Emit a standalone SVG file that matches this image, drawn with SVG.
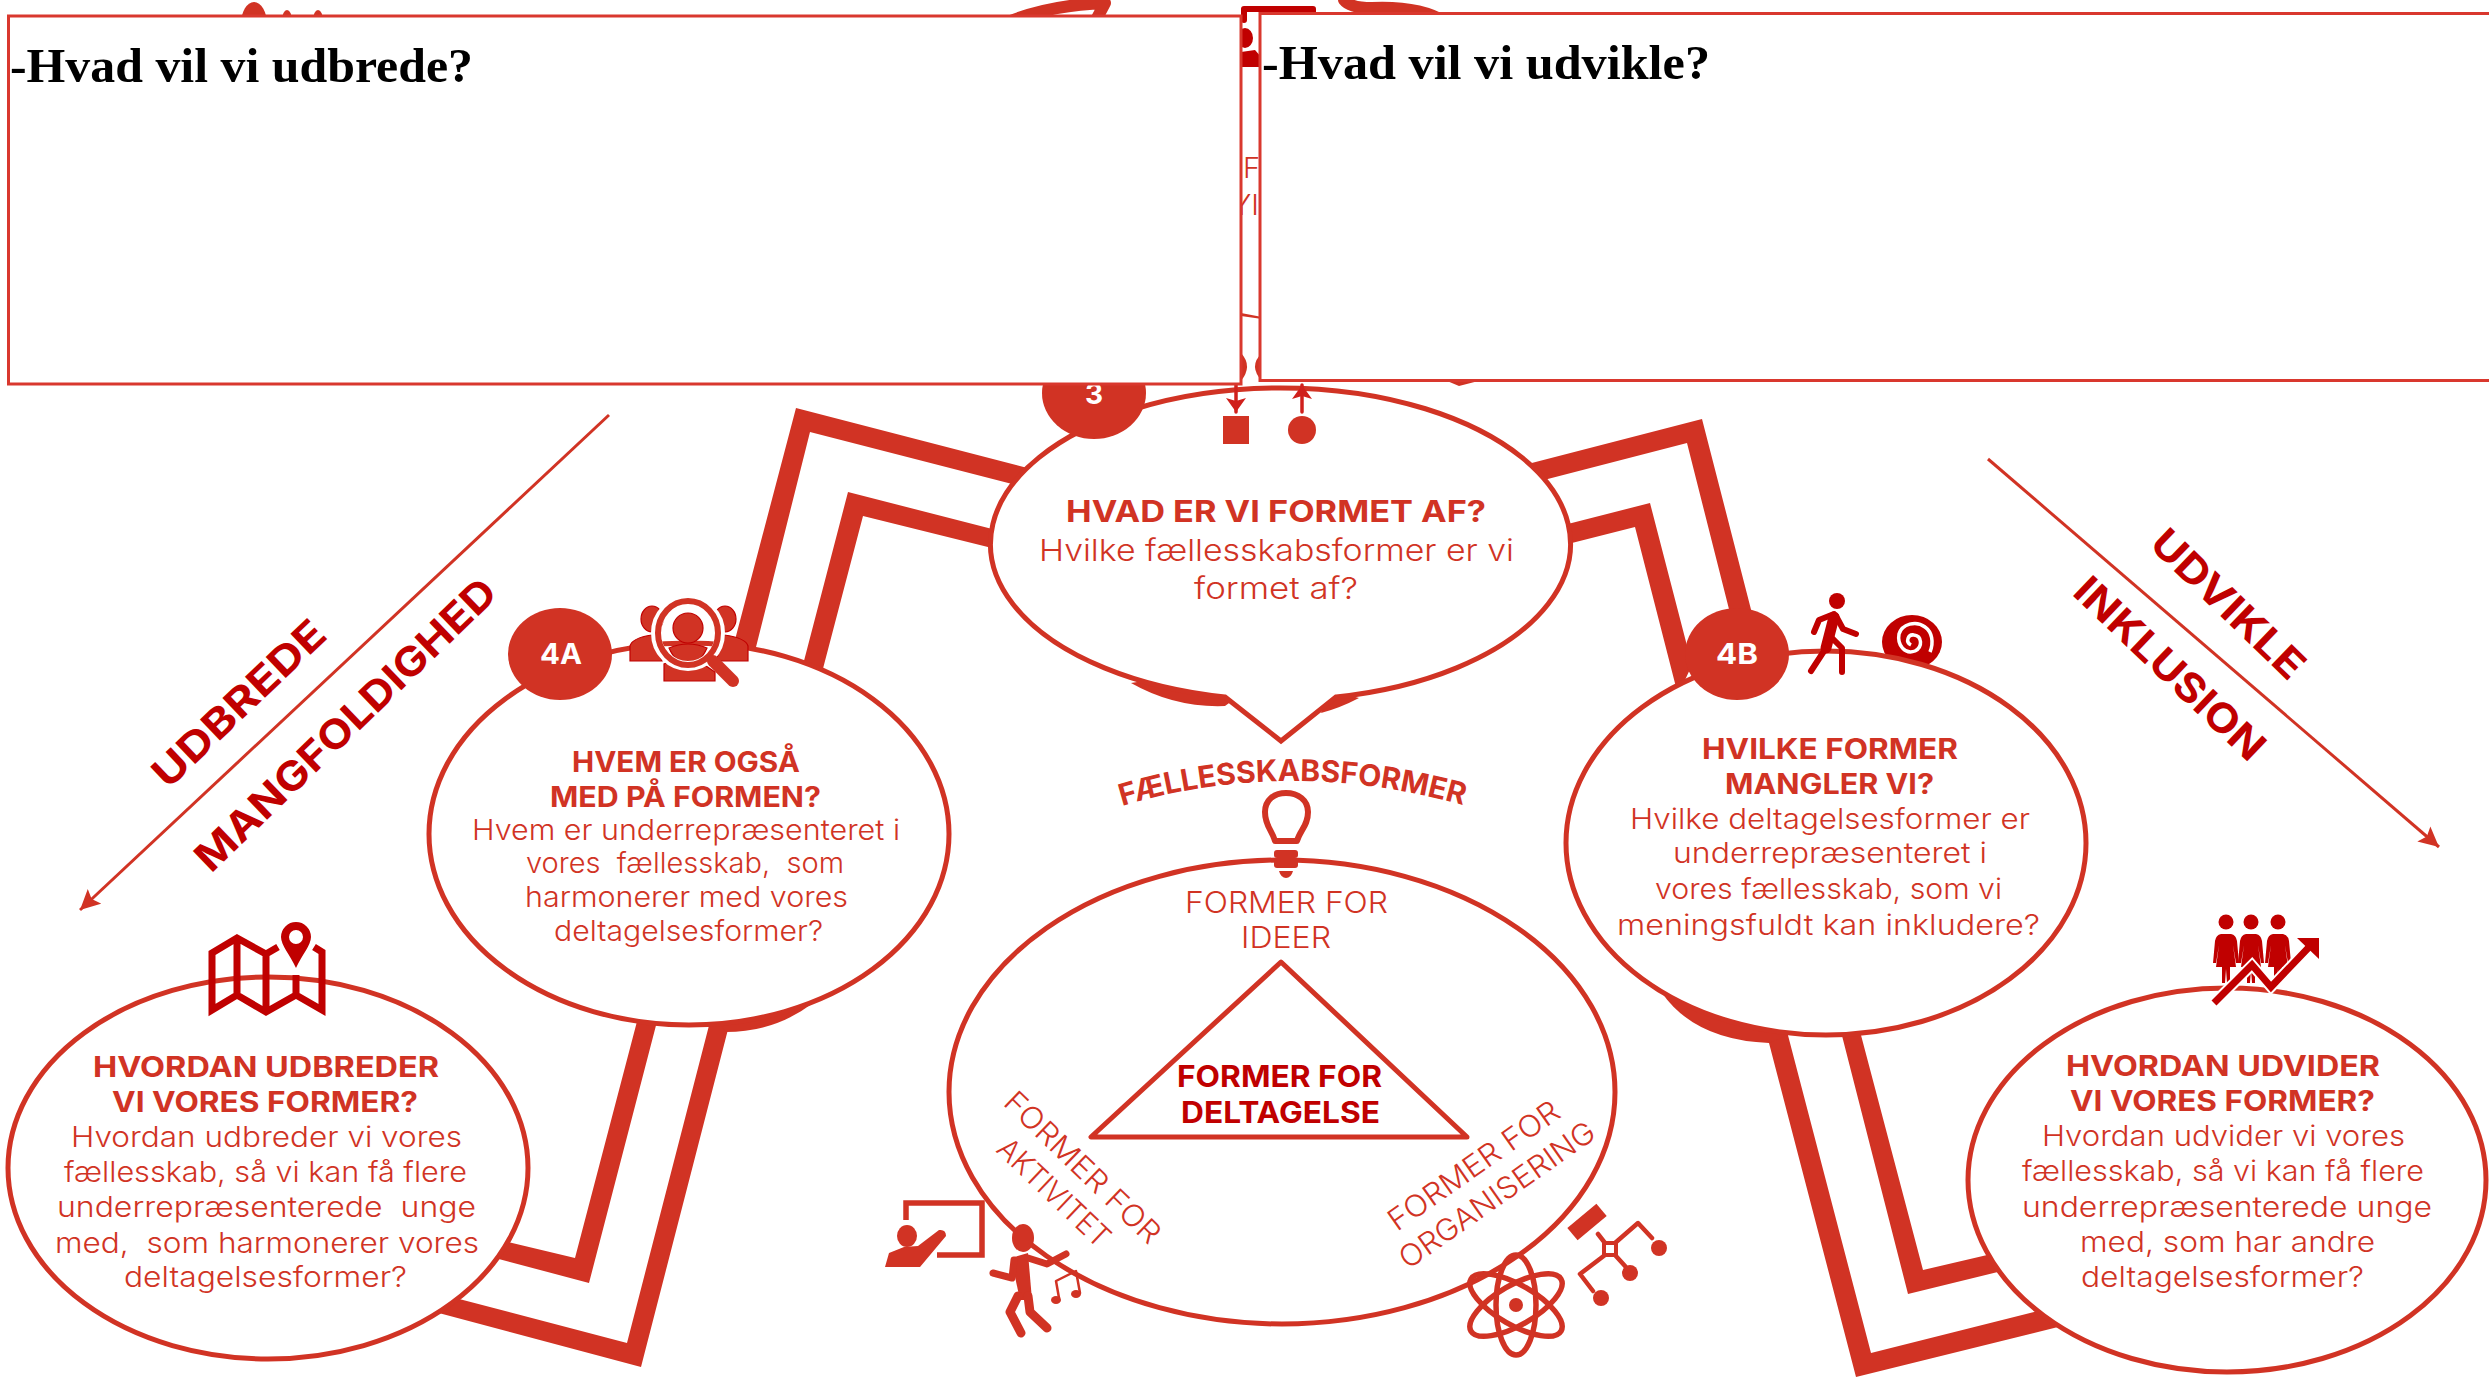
<svg xmlns="http://www.w3.org/2000/svg" xmlns:xlink="http://www.w3.org/1999/xlink" width="2489" height="1378" viewBox="0 0 2489 1378">
<style>
.t{font-family:Inter,"Liberation Sans",sans-serif;fill:#d13324}
.b{font-weight:700}
.l{font-weight:300}
.d{fill:#c00000}
.el{fill:#fff;stroke:#d13324;stroke-width:5}
.band{fill:#d13324}
.box{fill:#fff;stroke:#d9382e;stroke-width:3}
.h{font-family:"Liberation Serif",serif;font-weight:700;fill:#000;font-size:48px}
.ic{fill:#d13324}
.icd{fill:#c00000}
.sd{fill:none;stroke:#c00000;stroke-linecap:round;stroke-linejoin:round}
.sr{fill:none;stroke:#d13324;stroke-linecap:round;stroke-linejoin:round}
.diag{fill:none;stroke:#d13324;stroke-width:3}
</style>
<defs>
<marker id="tri" markerUnits="userSpaceOnUse" markerWidth="24" markerHeight="24" refX="20" refY="10" orient="auto"><path d="M0,0L20,10L0,20L4,10Z" fill="#d13324"/></marker>
<marker id="sm" markerUnits="userSpaceOnUse" markerWidth="24" markerHeight="24" refX="14" refY="10" orient="auto"><path d="M0,0L14,10L0,20L3,10Z" fill="#d0201c"/></marker>
<path id="arcf" d="M1122,806 Q1290,756 1466,806" fill="none"/>
<path id="fem" d="M-5,13L5,13Q10,14 11,20L13,42L10,42L7,24L10,46L4,46L4,62L1,62L0,48L-1,62L-4,62L-4,46L-10,46L-7,24L-10,42L-13,42L-11,20Q-10,14 -5,13Z"/>
</defs>

<g id="connectors">
<path class="band" d="M731,655L796,408L1035,470L1020,486L810,432L754,655Z"/>
<path class="band" d="M799,680L848,492L1000,531L1000,550L863,516L820,680Z"/>
<path class="band" d="M1520,466L1702,419L1755,625L1733,625L1687,443L1540,481Z"/>
<path class="band" d="M1560,526L1650,503L1692,665L1678,695L1635,527L1560,546Z"/>
<path class="band" d="M713,1010L733,1010L641,1367L420,1308L440,1294L627,1343Z"/>
<path class="band" d="M640,1010L660,1010L589,1283L480,1254L495,1239L575,1258Z"/>
<path class="band" d="M1763,1020L1784,1020L1871,1353L2050,1308L2070,1324L1856,1377Z"/>
<path class="band" d="M1838,1020L1857,1020L1923,1270L2000,1252L2010,1269L1908,1294Z"/>
<path class="band" d="M813,1003Q775,1032 726,1032L700,1000Z"/>
<path class="band" d="M1662,993Q1695,1040 1769,1043L1800,1030L1700,980Z"/>
<path class="band" d="M1131,683Q1175,708 1225,706L1240,695L1180,675Z"/>
<path class="band" d="M1321,713Q1340,708 1359,698L1330,690Z"/>
<path class="diag" d="M609,415L80,910" marker-end="url(#tri)"/>
<path class="diag" d="M1988,459L2439,847" marker-end="url(#tri)"/>
</g>

<g id="hidden-behind-boxes">
<ellipse class="ic" cx="254" cy="24" rx="13" ry="22"/>
<ellipse class="ic" cx="287" cy="20" rx="5" ry="10"/>
<ellipse class="ic" cx="318" cy="20" rx="5" ry="10"/>
<path class="sr" stroke-width="12" d="M1008,22Q1050,5 1105,3L1095,22"/>
<path class="sr" stroke-width="12" d="M1344,0Q1350,8 1372,8Q1420,6 1445,22"/>
<path class="sd" stroke-width="6" d="M1244,20L1244,9L1313,9L1313,18"/>
<ellipse class="icd" cx="1245" cy="38" rx="8" ry="10"/>
<path class="icd" d="M1241,52L1255,50L1262,58L1262,67L1241,67Z"/>
<path class="ic" d="M1241,313L1262,317L1262,319L1241,316Z"/>
<path class="ic" d="M1241,353Q1253,366 1241,381Z"/>
<path class="ic" d="M1262,353Q1248,366 1262,381Z"/>
<path class="ic" d="M1440,378L1490,378L1459,386Z"/>
<text class="t l" x="1243" y="178" font-size="29">F</text>
<text class="t l" x="1232" y="215" font-size="29">YI</text>
</g>

<g id="node-3">
<path class="el" d="M1225,697A290,156 0 1 1 1336,697L1281,741Z"/>
<ellipse class="ic" cx="1094" cy="393" rx="52" ry="46"/>
<text class="t b" style="fill:#fff" x="1085" y="404" font-size="28">3</text>
<text class="t b" x="1066" y="522" font-size="30" textLength="420" lengthAdjust="spacingAndGlyphs">HVAD ER VI FORMET AF?</text>
<text class="t l" x="1039" y="561" font-size="30" textLength="475" lengthAdjust="spacingAndGlyphs">Hvilke fællesskabsformer er vi</text>
<text class="t l" x="1194" y="599" font-size="30" textLength="164" lengthAdjust="spacingAndGlyphs">formet af?</text>
<path class="sd" stroke-width="3.5" d="M1236,385L1236,412" marker-end="url(#sm)" style="stroke:#d0201c"/>
<path class="sd" stroke-width="3.5" d="M1302,412L1302,385" marker-end="url(#sm)" style="stroke:#d0201c"/>
<rect class="ic" x="1223" y="416" width="26" height="28"/>
<ellipse class="ic" cx="1302" cy="430" rx="14" ry="14"/>
</g>

<g id="node-4a">
<ellipse class="el" cx="689" cy="834" rx="260" ry="191"/>
<ellipse class="ic" cx="560" cy="654" rx="52" ry="46"/>
<text class="t b" style="fill:#fff" x="540" y="664" font-size="29" textLength="42" lengthAdjust="spacingAndGlyphs">4A</text>
<g id="icon-search-people" stroke="#c00000" stroke-width="1.2">
<ellipse class="ic" cx="652" cy="619" rx="11" ry="13"/>
<ellipse class="ic" cx="725" cy="619" rx="11" ry="13"/>
<path class="ic" d="M630,661L630,646Q632,638 652,635L662,661Z"/>
<path class="ic" d="M748,661L748,646Q746,638 724,635L716,661Z"/>
<path class="ic" d="M664,681L664,664L670,662Q688,672 706,666L715,672L715,681Z"/>
<path class="ic" d="M669,648Q688,640 707,648Q700,664 688,664Q676,664 669,648Z"/>
<ellipse class="ic" cx="688" cy="628" rx="15" ry="15"/>
<ellipse cx="688" cy="633" rx="32" ry="33" fill="none" stroke="#fff" stroke-width="10"/>
<ellipse cx="688" cy="633" rx="30" ry="32" fill="none" stroke="#d13324" stroke-width="6"/>
<path d="M713,661L733,681" fill="none" stroke="#d13324" stroke-width="12" stroke-linecap="round"/>
</g>
<text class="t b" x="572" y="772" font-size="28" textLength="228" lengthAdjust="spacingAndGlyphs">HVEM ER OGSÅ</text>
<text class="t b" x="550" y="807" font-size="28" textLength="271" lengthAdjust="spacingAndGlyphs">MED PÅ FORMEN?</text>
<text class="t l" x="472" y="840" font-size="28" textLength="428" lengthAdjust="spacingAndGlyphs">Hvem er underrepræsenteret i</text>
<text class="t l" x="526" y="873" font-size="28" textLength="318" lengthAdjust="spacingAndGlyphs" xml:space="preserve">vores  fællesskab,  som</text>
<text class="t l" x="525" y="907" font-size="28" textLength="323" lengthAdjust="spacingAndGlyphs">harmonerer med vores</text>
<text class="t l" x="554" y="941" font-size="28" textLength="269" lengthAdjust="spacingAndGlyphs">deltagelsesformer?</text>
</g>

<g id="node-4b">
<g id="icon-spiral">
<ellipse class="icd" cx="1912" cy="642" rx="30" ry="27"/>
<path d="M1911,645C1905,642 1908,634 1914,635C1922,636 1923,647 1915,651C1905,655 1897,645 1899,634C1902,624 1916,620 1925,627C1932,632 1934,642 1930,652" fill="none" stroke="#fff" stroke-width="3.5"/>
</g>
<ellipse class="el" cx="1826" cy="843" rx="260" ry="192"/>
<ellipse class="ic" cx="1737" cy="654" rx="52" ry="46"/>
<text class="t b" style="fill:#fff" x="1716" y="664" font-size="29" textLength="42" lengthAdjust="spacingAndGlyphs">4B</text>
<g id="icon-walker">
<ellipse class="icd" cx="1837" cy="601" rx="8" ry="8"/>
<path class="sd" stroke-width="11" d="M1834,617L1826,648"/>
<path class="sd" stroke-width="6" d="M1834,614L1819,620L1814,632M1836,616L1843,629L1856,634M1826,648L1811,671M1832,638L1842,648L1842,672"/>
</g>
<text class="t b" x="1702" y="759" font-size="28" textLength="256" lengthAdjust="spacingAndGlyphs">HVILKE FORMER</text>
<text class="t b" x="1725" y="794" font-size="28" textLength="209" lengthAdjust="spacingAndGlyphs">MANGLER VI?</text>
<text class="t l" x="1630" y="829" font-size="28" textLength="400" lengthAdjust="spacingAndGlyphs">Hvilke deltagelsesformer er</text>
<text class="t l" x="1673" y="863" font-size="28" textLength="314" lengthAdjust="spacingAndGlyphs">underrepræsenteret i</text>
<text class="t l" x="1655" y="899" font-size="28" textLength="347" lengthAdjust="spacingAndGlyphs">vores fællesskab, som vi</text>
<text class="t l" x="1617" y="935" font-size="28" textLength="423" lengthAdjust="spacingAndGlyphs">meningsfuldt kan inkludere?</text>
</g>

<g id="node-udbred">
<ellipse class="el" cx="268" cy="1168" rx="260" ry="191"/>
<g id="icon-map">
<path class="sd" stroke-width="7" style="stroke-linecap:butt;stroke-linejoin:miter" d="M278,947L266,954L237,938L212,953L212,1010L237,995L266,1012L296,995L322,1010L322,952L314,947M237,938L237,995M266,954L266,1012M296,975L296,995"/>
<path class="icd" fill-rule="evenodd" d="M296,968C290,955 281,945 281,937A15,15 0 1 1 311,937C311,945 302,955 296,968ZM296,930A7,7 0 1 0 296,944A7,7 0 1 0 296,930Z"/>
</g>
<text class="t b" x="93" y="1077" font-size="28" textLength="346" lengthAdjust="spacingAndGlyphs">HVORDAN UDBREDER</text>
<text class="t b" x="112" y="1112" font-size="28" textLength="306" lengthAdjust="spacingAndGlyphs">VI VORES FORMER?</text>
<text class="t l" x="71" y="1147" font-size="28" textLength="391" lengthAdjust="spacingAndGlyphs">Hvordan udbreder vi vores</text>
<text class="t l" x="64" y="1182" font-size="28" textLength="403" lengthAdjust="spacingAndGlyphs">fællesskab, så vi kan få flere</text>
<text class="t l" x="57" y="1217" font-size="28" textLength="419" lengthAdjust="spacingAndGlyphs" xml:space="preserve">underrepræsenterede  unge</text>
<text class="t l" x="55" y="1253" font-size="28" textLength="424" lengthAdjust="spacingAndGlyphs" xml:space="preserve">med,  som harmonerer vores</text>
<text class="t l" x="124" y="1287" font-size="28" textLength="283" lengthAdjust="spacingAndGlyphs">deltagelsesformer?</text>
</g>

<g id="node-udvid">
<ellipse class="el" cx="2227" cy="1180" rx="259" ry="192"/>
<g id="icon-people-growth">
<circle class="icd" cx="2226" cy="922" r="7.5"/><circle class="icd" cx="2251" cy="922" r="7.5"/><circle class="icd" cx="2278" cy="922" r="7.5"/>
<use href="#fem" x="2226" y="921" class="icd"/><use href="#fem" x="2251" y="921" class="icd"/><use href="#fem" x="2278" y="921" class="icd"/>
<path d="M2214,1003L2252,965L2271,987L2312,944" fill="none" stroke="#fff" stroke-width="11"/>
<path d="M2214,1003L2252,965L2271,987L2312,944" fill="none" stroke="#c00000" stroke-width="7"/>
<path class="icd" d="M2297,938L2319,938L2319,959Z"/>
</g>
<text class="t b" x="2066" y="1076" font-size="28" textLength="314" lengthAdjust="spacingAndGlyphs">HVORDAN UDVIDER</text>
<text class="t b" x="2070" y="1111" font-size="28" textLength="305" lengthAdjust="spacingAndGlyphs">VI VORES FORMER?</text>
<text class="t l" x="2042" y="1146" font-size="28" textLength="363" lengthAdjust="spacingAndGlyphs">Hvordan udvider vi vores</text>
<text class="t l" x="2022" y="1181" font-size="28" textLength="402" lengthAdjust="spacingAndGlyphs">fællesskab, så vi kan få flere</text>
<text class="t l" x="2022" y="1217" font-size="28" textLength="410" lengthAdjust="spacingAndGlyphs">underrepræsenterede unge</text>
<text class="t l" x="2080" y="1252" font-size="28" textLength="295" lengthAdjust="spacingAndGlyphs">med, som har andre</text>
<text class="t l" x="2081" y="1287" font-size="28" textLength="283" lengthAdjust="spacingAndGlyphs">deltagelsesformer?</text>
</g>

<g id="node-faellesskabsformer">
<text class="t b" font-size="30"><textPath href="#arcf" textLength="346" lengthAdjust="spacing">FÆLLESSKABSFORMER</textPath></text>
<ellipse class="el" cx="1282" cy="1092" rx="333" ry="232"/>
<g id="icon-bulb">
<path class="sr" stroke-width="6" d="M1275,841C1272,830 1265,826 1265,812C1265,800 1274,793 1286,793C1298,793 1308,800 1308,812C1308,826 1300,830 1297,841Z" style="fill:#fff"/>
<rect class="ic" x="1274" y="850" width="24" height="8" rx="3"/>
<rect class="ic" x="1274" y="860" width="24" height="8" rx="3"/>
<path class="ic" d="M1279,871L1293,871Q1291,878 1286,878Q1281,878 1279,871Z"/>
</g>
<text class="t l" x="1185" y="913" font-size="30" textLength="203" lengthAdjust="spacingAndGlyphs">FORMER FOR</text>
<text class="t l" x="1241" y="948" font-size="30" textLength="90" lengthAdjust="spacingAndGlyphs">IDEER</text>
<path d="M1281,962L1091,1137L1467,1137Z" fill="none" stroke="#d13324" stroke-width="5" stroke-linejoin="round"/>
<text class="t b" style="fill:#c00000" x="1177" y="1087" font-size="30" textLength="205" lengthAdjust="spacingAndGlyphs">FORMER FOR</text>
<text class="t b" style="fill:#c00000" x="1181" y="1123" font-size="30" textLength="199" lengthAdjust="spacingAndGlyphs">DELTAGELSE</text>
<text class="t l" transform="translate(1002,1104) rotate(44)" font-size="30" textLength="204" lengthAdjust="spacingAndGlyphs">FORMER FOR</text>
<text class="t l" transform="translate(995,1151) rotate(43.5)" font-size="30" textLength="143" lengthAdjust="spacingAndGlyphs">AKTIVITET</text>
<text class="t l" transform="translate(1397,1232) rotate(-35)" font-size="30" textLength="202" lengthAdjust="spacingAndGlyphs">FORMER FOR</text>
<text class="t l" transform="translate(1408,1270) rotate(-35)" font-size="30" textLength="232" lengthAdjust="spacingAndGlyphs">ORGANISERING</text>
<g id="icon-teach">
<path class="sr" stroke-width="5.5" style="stroke-linecap:butt;stroke-linejoin:miter" d="M906,1220L906,1203L982,1203L982,1255L937,1255"/>
<ellipse class="ic" cx="907" cy="1236" rx="10" ry="11"/>
<path class="ic" d="M885,1267L889,1253L904,1247L918,1246L939,1230Q946,1229 946,1236L920,1267Z"/>
</g>
<g id="icon-dancer">
<ellipse class="ic" cx="1023" cy="1238" rx="11" ry="14"/>
<path class="ic" d="M1011,1258L1028,1253L1032,1300L1020,1300Z"/>
<path class="sr" stroke-width="7" d="M1014,1260L1012,1278L993,1273M1028,1258L1047,1264L1066,1254"/>
<path class="sr" stroke-width="9" d="M1018,1296L1010,1312L1021,1333M1028,1296L1030,1312L1047,1328"/>
<g id="notes">
<path class="sr" stroke-width="2.5" d="M1059,1298L1056,1281L1076,1271L1080,1293"/>
<ellipse class="ic" cx="1056" cy="1300" rx="5" ry="4"/>
<ellipse class="ic" cx="1076" cy="1294" rx="5" ry="4"/>
</g>
</g>
<g id="icon-atom" fill="none" stroke="#d13324" stroke-width="5.5">
<ellipse cx="1516" cy="1305" rx="20" ry="50"/>
<ellipse cx="1516" cy="1305" rx="20" ry="52" transform="rotate(60 1516 1305)"/>
<ellipse cx="1516" cy="1305" rx="20" ry="52" transform="rotate(-60 1516 1305)"/>
<circle cx="1516" cy="1305" r="7" fill="#d13324" stroke="none"/>
</g>
<g id="icon-org">
<rect class="ic" x="1568" y="1214" width="38" height="16" transform="rotate(-40 1587 1222)"/>
<rect x="1604" y="1243" width="12" height="12" fill="none" stroke="#d13324" stroke-width="4"/>
<path class="sr" stroke-width="4.5" d="M1598,1234L1605,1243M1615,1243L1638,1223L1652,1238M1605,1255L1580,1274L1593,1291M1615,1255L1625,1266"/>
<ellipse class="ic" cx="1659" cy="1248" rx="8" ry="8"/>
<ellipse class="ic" cx="1630" cy="1273" rx="8" ry="8"/>
<ellipse class="ic" cx="1601" cy="1298" rx="8" ry="8"/>
</g>
</g>

<g id="labels">
<text class="t b" style="fill:#c00000" transform="translate(168,790) rotate(-43.5)" font-size="40" textLength="222" lengthAdjust="spacingAndGlyphs">UDBREDE</text>
<text class="t b" style="fill:#c00000" transform="translate(211,874) rotate(-44)" font-size="40" textLength="401" lengthAdjust="spacingAndGlyphs">MANGFOLDIGHED</text>
<text class="t b" style="fill:#c00000" transform="translate(2148,546) rotate(44)" font-size="40" textLength="196" lengthAdjust="spacingAndGlyphs">UDVIKLE</text>
<text class="t b" style="fill:#c00000" transform="translate(2071,594) rotate(43.5)" font-size="40" textLength="246" lengthAdjust="spacingAndGlyphs">INKLUSION</text>
</g>

<g id="box-udvikle">
<rect class="box" x="1260" y="13.5" width="1300" height="367"/>
<text class="h" x="1262" y="79" textLength="448" lengthAdjust="spacingAndGlyphs">-Hvad vil vi udvikle?</text>
</g>
<g id="box-udbrede">
<rect class="box" x="8.5" y="16" width="1232.5" height="368"/>
<text class="h" x="10" y="82" textLength="463" lengthAdjust="spacingAndGlyphs">-Hvad vil vi udbrede?</text>
</g>
</svg>
